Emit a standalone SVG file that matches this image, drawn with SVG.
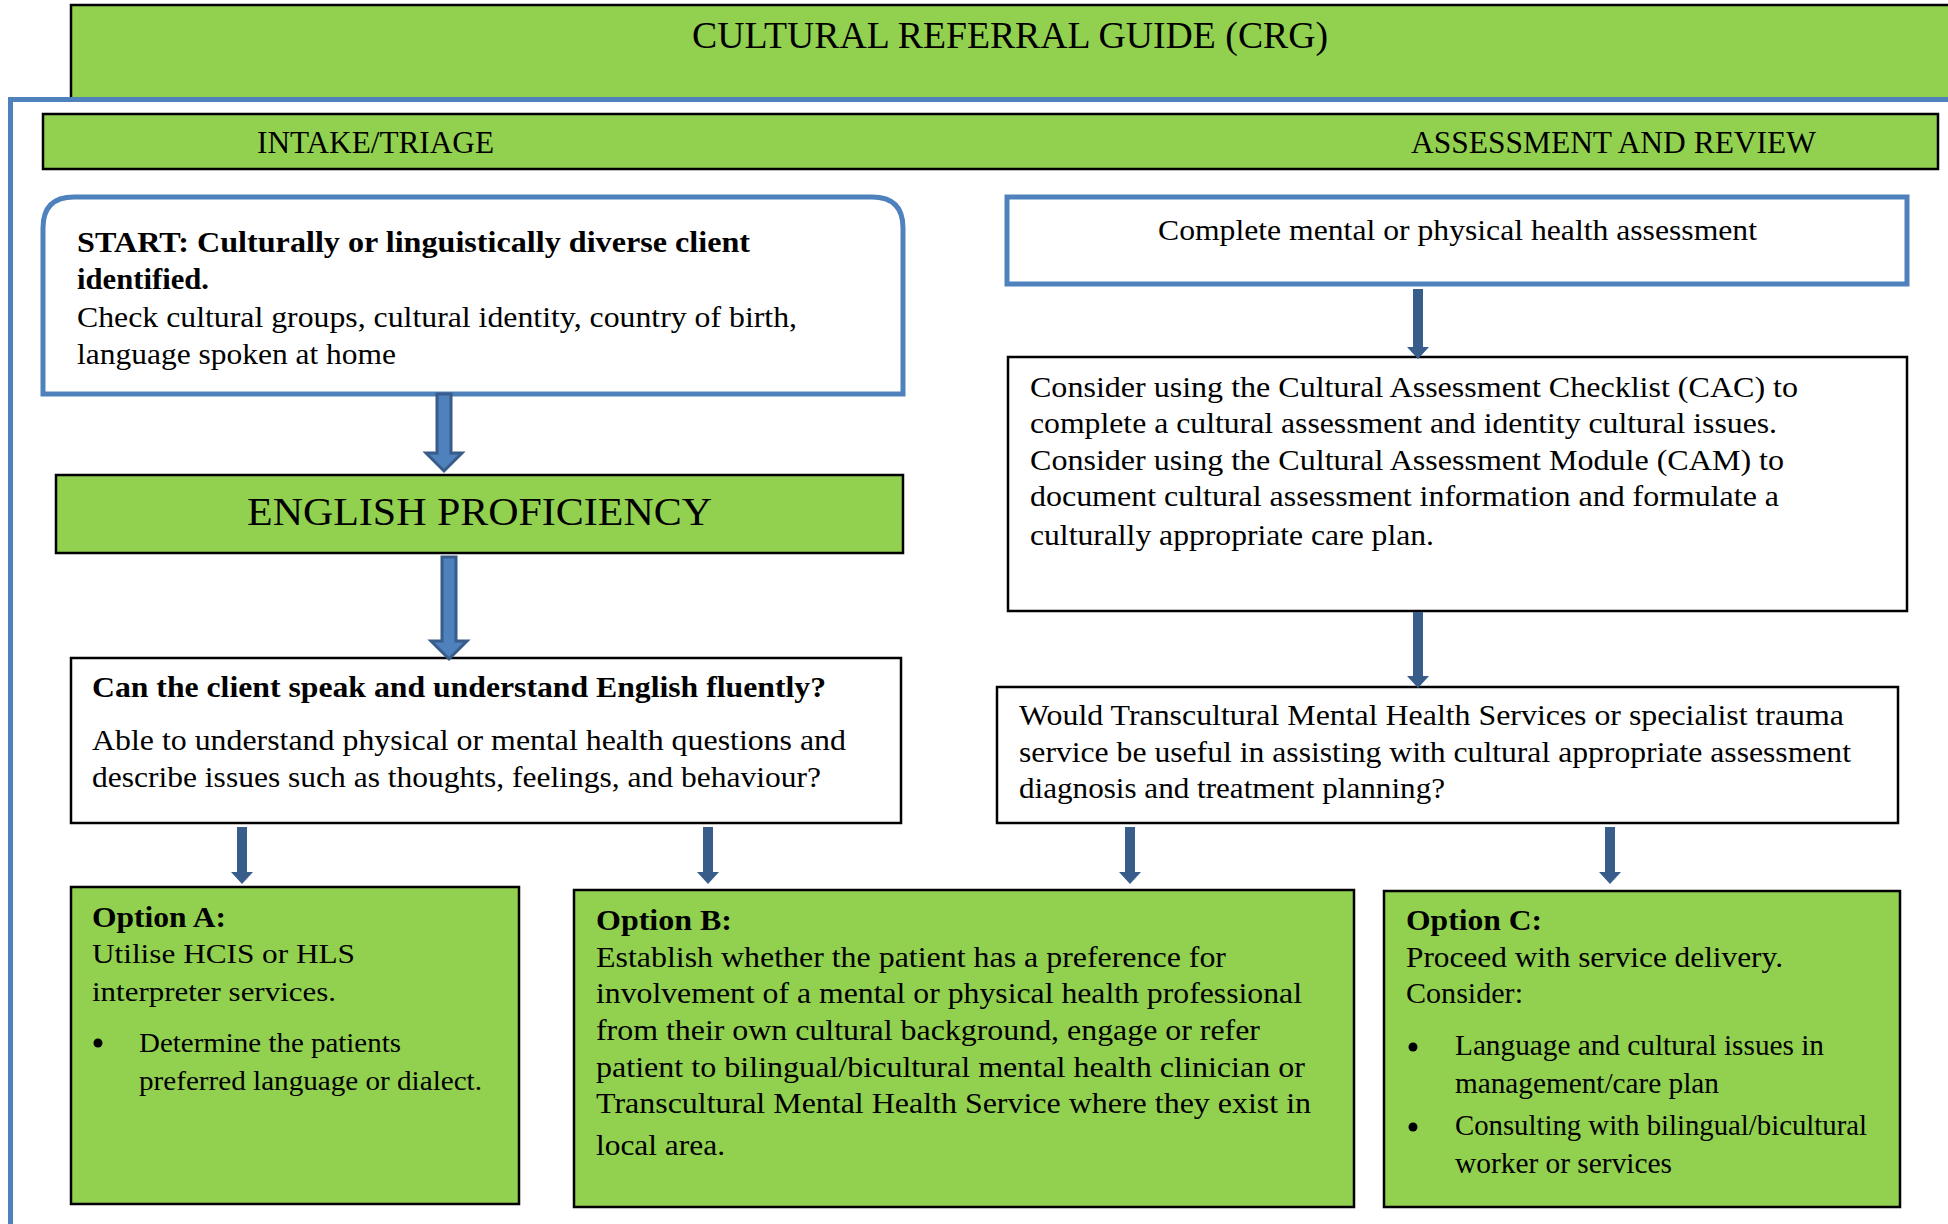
<svg xmlns="http://www.w3.org/2000/svg" width="1948" height="1224" viewBox="0 0 1948 1224">
<style>
text{font-family:"Liberation Serif","Times New Roman",serif;fill:#000}
.b{font-weight:bold}
.t30{font-size:30px}
.t29{font-size:29px}
.t28{font-size:28px}
.green{fill:#92D050;stroke:#000;stroke-width:2.5}
.white{fill:#fff;stroke:#000;stroke-width:2.5}
.bluebox{fill:#fff;stroke:#4F81BD;stroke-width:5}
.blockarrow{fill:#4F81BD;stroke:#385D8A;stroke-width:3;stroke-linejoin:miter}
.arrow{fill:#385D8A;stroke:none}
.bullet{fill:#000}
</style>

<g id="title">
<rect class="green" x="71" y="5" width="1890" height="95"/>
<text x="692" y="48" style="font-size:37px" textLength="636" lengthAdjust="spacingAndGlyphs">CULTURAL REFERRAL GUIDE (CRG)</text>
</g>

<g id="frame">
<path d="M10.5,1224 V99.5 H1948" fill="none" stroke="#4F81BD" stroke-width="5"/>
</g>

<g id="header">
<rect class="green" x="43" y="114" width="1895" height="55"/>
<text x="257" y="153" style="font-size:31px" textLength="237" lengthAdjust="spacingAndGlyphs">INTAKE/TRIAGE</text>
<text x="1411" y="153" style="font-size:31px" textLength="405" lengthAdjust="spacingAndGlyphs">ASSESSMENT AND REVIEW</text>
</g>

<g id="start">
<path class="bluebox" d="M43,394 V228 Q43,197 74,197 H872 Q903,197 903,228 V394 Z"/>
<text class="t29 b" x="77" y="252" textLength="673" lengthAdjust="spacingAndGlyphs">START: Culturally or linguistically diverse client</text>
<text class="t29 b" x="77" y="289" textLength="132" lengthAdjust="spacingAndGlyphs">identified.</text>
<text class="t29" x="77" y="327" textLength="720" lengthAdjust="spacingAndGlyphs">Check cultural groups, cultural identity, country of birth,</text>
<text class="t29" x="77" y="364" textLength="319" lengthAdjust="spacingAndGlyphs">language spoken at home</text>
</g>

<g id="english">
<rect class="green" x="56" y="475" width="847" height="78"/>
<text x="247" y="525" style="font-size:41px" textLength="465" lengthAdjust="spacingAndGlyphs">ENGLISH PROFICIENCY</text>
</g>

<g id="question">
<rect class="white" x="71" y="658" width="830" height="165"/>
<text class="t29 b" x="92" y="697" textLength="734" lengthAdjust="spacingAndGlyphs">Can the client speak and understand English fluently?</text>
<text class="t29" x="92" y="750" textLength="754" lengthAdjust="spacingAndGlyphs">Able to understand physical or mental health questions and</text>
<text class="t29" x="92" y="787" textLength="729" lengthAdjust="spacingAndGlyphs">describe issues such as thoughts, feelings, and behaviour?</text>
</g>

<g id="complete">
<rect class="bluebox" x="1007" y="197" width="900" height="87"/>
<text class="t30" x="1158" y="240" textLength="599" lengthAdjust="spacingAndGlyphs">Complete mental or physical health assessment</text>
</g>

<g id="cac">
<rect class="white" x="1008" y="357" width="899" height="254"/>
<text class="t30" x="1030" y="397" textLength="768" lengthAdjust="spacingAndGlyphs">Consider using the Cultural Assessment Checklist (CAC) to</text>
<text class="t30" x="1030" y="433" textLength="747" lengthAdjust="spacingAndGlyphs">complete a cultural assessment and identity cultural issues.</text>
<text class="t30" x="1030" y="470" textLength="754" lengthAdjust="spacingAndGlyphs">Consider using the Cultural Assessment Module (CAM) to</text>
<text class="t30" x="1030" y="506" textLength="749" lengthAdjust="spacingAndGlyphs">document cultural assessment information and formulate a</text>
<text class="t30" x="1030" y="545" textLength="404" lengthAdjust="spacingAndGlyphs">culturally appropriate care plan.</text>
</g>

<g id="question2">
<rect class="white" x="997" y="687" width="901" height="136"/>
<text class="t30" x="1019" y="725" textLength="825" lengthAdjust="spacingAndGlyphs">Would Transcultural Mental Health Services or specialist trauma</text>
<text class="t30" x="1019" y="762" textLength="832" lengthAdjust="spacingAndGlyphs">service be useful in assisting with cultural appropriate assessment</text>
<text class="t30" x="1019" y="798" textLength="426" lengthAdjust="spacingAndGlyphs">diagnosis and treatment planning?</text>
</g>

<g id="optionA">
<rect class="green" x="71" y="887" width="448" height="317"/>
<text class="t30 b" x="92" y="927" textLength="134" lengthAdjust="spacingAndGlyphs">Option A:</text>
<text class="t28" x="92" y="963" textLength="263" lengthAdjust="spacingAndGlyphs">Utilise HCIS or HLS</text>
<text class="t28" x="92" y="1001" textLength="244" lengthAdjust="spacingAndGlyphs">interpreter services.</text>
<circle class="bullet" cx="98" cy="1043" r="4.5"/>
<text class="t28" x="139" y="1052" textLength="262" lengthAdjust="spacingAndGlyphs">Determine the patients</text>
<text class="t28" x="139" y="1090" textLength="343" lengthAdjust="spacingAndGlyphs">preferred language or dialect.</text>
</g>

<g id="optionB">
<rect class="green" x="574" y="890" width="780" height="317"/>
<text class="t30 b" x="596" y="930" textLength="136" lengthAdjust="spacingAndGlyphs">Option B:</text>
<text class="t30" x="596" y="967" textLength="630" lengthAdjust="spacingAndGlyphs">Establish whether the patient has a preference for</text>
<text class="t30" x="596" y="1003" textLength="706" lengthAdjust="spacingAndGlyphs">involvement of a mental or physical health professional</text>
<text class="t30" x="596" y="1040" textLength="664" lengthAdjust="spacingAndGlyphs">from their own cultural background, engage or refer</text>
<text class="t30" x="596" y="1077" textLength="709" lengthAdjust="spacingAndGlyphs">patient to bilingual/bicultural mental health clinician or</text>
<text class="t30" x="596" y="1113" textLength="715" lengthAdjust="spacingAndGlyphs">Transcultural Mental Health Service where they exist in</text>
<text class="t30" x="596" y="1155" textLength="129" lengthAdjust="spacingAndGlyphs">local area.</text>
</g>

<g id="optionC">
<rect class="green" x="1384" y="891" width="516" height="316"/>
<text class="t30 b" x="1406" y="930" textLength="136" lengthAdjust="spacingAndGlyphs">Option C:</text>
<text class="t30" x="1406" y="967" textLength="377" lengthAdjust="spacingAndGlyphs">Proceed with service delivery.</text>
<text class="t30" x="1406" y="1003" textLength="117" lengthAdjust="spacingAndGlyphs">Consider:</text>
<circle class="bullet" cx="1413" cy="1047" r="4.5"/>
<text class="t30" x="1455" y="1055" textLength="369" lengthAdjust="spacingAndGlyphs">Language and cultural issues in</text>
<text class="t30" x="1455" y="1093" textLength="264" lengthAdjust="spacingAndGlyphs">management/care plan</text>
<circle class="bullet" cx="1413" cy="1127" r="4.5"/>
<text class="t30" x="1455" y="1135" textLength="412" lengthAdjust="spacingAndGlyphs">Consulting with bilingual/bicultural</text>
<text class="t30" x="1455" y="1173" textLength="217" lengthAdjust="spacingAndGlyphs">worker or services</text>
</g>

<g id="connectors">
<polygon class="blockarrow" points="437,394 451,394 451,453 462,453 444,471 426,453 437,453"/>
<polygon class="blockarrow" points="442,557 456,557 456,641 467,641 449,659 431,641 442,641"/>
<polygon class="arrow" points="1413,289 1423,289 1423,347 1429,347 1418,359 1407,347 1413,347"/>
<polygon class="arrow" points="1413,612 1423,612 1423,676 1429,676 1418,688 1407,676 1413,676"/>
<polygon class="arrow" points="237,827 247,827 247,872 253,872 242,884 231,872 237,872"/>
<polygon class="arrow" points="703,827 713,827 713,872 719,872 708,884 697,872 703,872"/>
<polygon class="arrow" points="1125,827 1135,827 1135,872 1141,872 1130,884 1119,872 1125,872"/>
<polygon class="arrow" points="1605,827 1615,827 1615,872 1621,872 1610,884 1599,872 1605,872"/>
</g>
</svg>
